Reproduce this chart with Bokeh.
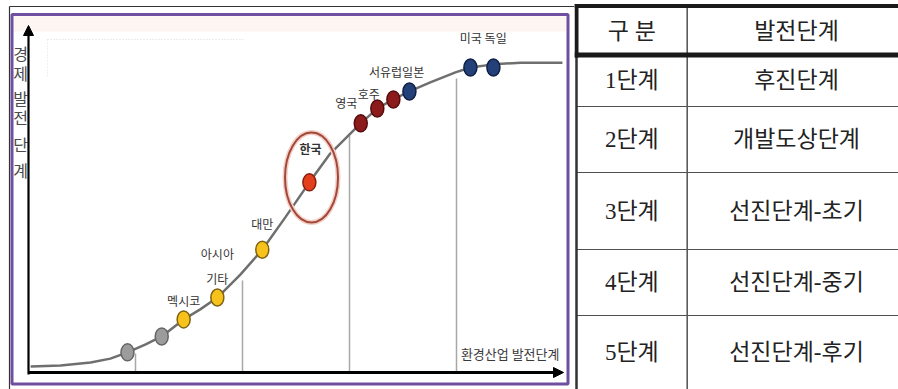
from bokeh.plotting import figure
from bokeh.models import Range1d, Arrow, NormalHead
from bokeh.layouts import row
from bokeh.embed import file_html
from bokeh.resources import INLINE
from bokeh.core.properties import value

# ---------------- data ----------------
# S-curve of economic development (x: environmental-industry stage 0-100, y: economic stage 0-100)
curve_x = [0.4, 6.0, 11.6, 15.3, 18.5, 21.9, 24.9, 29.0, 32.1, 35.3, 39.6, 43.7, 48.0,
           52.5, 56.4, 60.2, 62.1, 65.2, 68.2, 71.2, 75.1, 79.8, 82.6, 86.9, 92.0, 99.8]
curve_y = [1.7, 2.0, 2.9, 4.0, 5.8, 8.1, 10.4, 15.3, 18.2, 21.6, 28.2, 35.4, 44.7,
           54.8, 63.1, 68.9, 71.8, 76.1, 78.7, 81.0, 83.6, 86.5, 87.9, 88.8, 89.3, 89.3]

# country points
point_x = [18.5, 24.9, 29.0, 35.3, 43.7, 52.5, 62.1, 65.2, 68.2, 71.2, 82.6, 86.9]
point_y = [5.8, 10.4, 15.3, 21.6, 35.4, 54.8, 71.8, 76.1, 78.7, 81.0, 87.9, 87.9]
point_group = ["low", "low", "mid", "mid", "mid", "kr", "adv", "adv", "adv", "top", "top", "top"]

# labels
label_text = ["멕시코", "아시아", "기타", "대만", "한국", "영국", "호주", "서유럽일본", "미국 독일"]
label_x = [29.0, 35.3, 35.3, 43.7, 52.7, 59.4, 63.6, 68.8, 85.0]
label_y = [20.7, 34.4, 27.2, 42.9, 64.6, 77.8, 80.5, 86.6, 96.6]

# stage boundaries on the x axis and the height of each boundary line
stage_bounds = [20, 40, 60, 80]
stage_tops = [5.5, 26.5, 68.3, 84.7]

y_title_chars = ["경", "제", "발", "전", "단", "계"]
x_title = "환경산업 발전단계"

# table
table_header = ["구 분", "발전단계"]
table_col1 = ["1단계", "2단계", "3단계", "4단계", "5단계"]
table_col2 = ["후진단계", "개발도상단계", "선진단계-초기", "선진단계-중기", "선진단계-후기"]

# ---------------- styles ----------------
group_fill = {"low": "#9c9c9c", "mid": "#f8c21c", "kr": "#e2401c", "adv": "#8c1c1c", "top": "#234079"}
group_line = {"low": "#666666", "mid": "#7d6212", "kr": "#8a1d10", "adv": "#560c0c", "top": "#101f44"}

KFONT = value("Noto Sans CJK KR")

# ---------------- chart figure ----------------
W1, H = 574, 389
X0, X100 = 28, 563       # pixel position of x = 0 and x = 100
Y0, Y100 = 372, 25       # pixel position of y = 0 and y = 100
SX = (X100 - X0) / 100.0
SY = (Y0 - Y100) / 100.0


def fx(px):
    return (px - X0) / SX


def fy(py):
    return (Y0 - py) / SY


p = figure(width=W1, height=H, output_backend="svg", toolbar_location=None,
           x_range=Range1d(fx(0), fx(W1)), y_range=Range1d(fy(H), fy(0)),
           x_axis_location=None, y_axis_location=None, min_border=0,
           outline_line_color=None, background_fill_color="white")
p.grid.visible = False

# faint band at top of the frame
p.quad(left=[fx(13)], right=[fx(566)], top=[fy(16)], bottom=[fy(31)],
       fill_color="#fcf5f2", line_color=None)
# faint dotted guide
p.line([fx(47), fx(243)], [fy(39), fy(39)], line_color="#d8d8d8", line_dash="1 2", line_width=1)
p.line([fx(47), fx(47)], [fy(39), fy(78)], line_color="#e0e0e0", line_dash="1 2", line_width=1)

# outer frame lines
p.line([fx(9), fx(W1)], [fy(6), fy(6)], line_color="#333333", line_width=1.2)
p.line([fx(9), fx(9)], [fy(6), fy(H)], line_color="#333333", line_width=1.2)
# purple frame
p.quad(left=[fx(11.5)], right=[fx(567.5)], top=[fy(14)], bottom=[fy(383.5)],
       fill_color=None, line_color="#6f4f9f", line_width=3)

# stage boundary lines
p.segment(x0=stage_bounds, y0=[0] * len(stage_bounds), x1=stage_bounds, y1=stage_tops,
          line_color="#a8a8a8", line_width=1.5)

# axes with arrows
p.add_layout(Arrow(end=NormalHead(size=10, fill_color="black", line_color="black"),
                   x_start=0, y_start=fy(374), x_end=0, y_end=100,
                   line_color="black", line_width=2.2))
p.add_layout(Arrow(end=NormalHead(size=10, fill_color="black", line_color="black"),
                   x_start=0, y_start=0, x_end=100, y_end=0,
                   line_color="black", line_width=3))

# curve
p.line(curve_x, curve_y, line_color="#6f6f6f", line_width=2.5)

# Korea highlight ring
p.ellipse(x=[point_x[5] + 0.4], y=[point_y[5] + 1.4], width=53, height=90,
          width_units="screen", height_units="screen",
          fill_color=None, line_color="#f3cfc8", line_width=5)
p.ellipse(x=[point_x[5] + 0.4], y=[point_y[5] + 1.4], width=53, height=90,
          width_units="screen", height_units="screen",
          fill_color=None, line_color="#a24838", line_width=2)

# points
p.ellipse(x=point_x, y=point_y, width=13, height=17,
          width_units="screen", height_units="screen",
          fill_color=[group_fill[g] for g in point_group],
          line_color=[group_line[g] for g in point_group], line_width=1.5)

# point labels
bold = ["bold" if t == "한국" else "normal" for t in label_text]
p.text(x=label_x, y=label_y, text=label_text, text_font=KFONT, text_font_size="12px",
       text_font_style=bold, text_color="#333333",
       text_align="center", text_baseline="middle")

# axis titles
y_title_px = [52, 72, 97, 116, 143, 169]
p.text(x=[fx(20)] * len(y_title_chars), y=[fy(v) for v in y_title_px], text=y_title_chars,
       text_font=KFONT, text_font_size="16px", text_color="#4a4a4a",
       text_align="center", text_baseline="middle")
p.text(x=[fx(559)], y=[fy(353)], text=[x_title], text_font=KFONT, text_font_size="13px",
       text_color="#3a3a3a", text_align="right", text_baseline="middle")

# ---------------- table figure ----------------
W2 = 898 - W1
t = figure(width=W2, height=H, output_backend="svg", toolbar_location=None,
           x_range=Range1d(0, W2), y_range=Range1d(H, 0),
           x_axis_location=None, y_axis_location=None, min_border=0,
           outline_line_color=None, background_fill_color="white")
t.grid.visible = False

row_edges = [5.5, 54.5, 106, 172, 249, 315, 389]
col_div = 112.7
col1_c = (2 + col_div) / 2
col2_c = 222

# grid lines
t.segment(x0=[2] * 4, y0=row_edges[2:6], x1=[W2] * 4, y1=row_edges[2:6],
          line_color="#505050", line_width=1.2)
t.segment(x0=[col_div], y0=[row_edges[0]], x1=[col_div], y1=[H],
          line_color="#5a5a5a", line_width=1.6)
t.segment(x0=[2], y0=[row_edges[1]], x1=[2], y1=[H], line_color="#333333", line_width=2.5)
# header box (thick)
t.segment(x0=[0, 0, 2], y0=[row_edges[0], row_edges[1], 3.5],
          x1=[W2, W2, 2], y1=[row_edges[0], row_edges[1], 57],
          line_color="#1a1a1a", line_width=[4, 5, 4])

centers = [(row_edges[i] + row_edges[i + 1]) / 2 for i in range(len(row_edges) - 1)]
TFONT = value("Liberation Serif, Noto Sans CJK KR")
t.text(x=[col1_c, col2_c], y=[centers[0] + 1] * 2, text=table_header, text_font=TFONT,
       text_font_size="23px", text_color="#222222", text_align="center", text_baseline="middle")
t.text(x=[col1_c] * len(table_col1), y=centers[1:], text=table_col1, text_font=TFONT,
       text_font_size="23px", text_color="#222222", text_align="center", text_baseline="middle")
t.text(x=[col2_c] * len(table_col2), y=centers[1:], text=table_col2, text_font=TFONT,
       text_font_size="23px", text_color="#222222", text_align="center", text_baseline="middle")

layout = row(p, t, spacing=0)
open("out.html", "w").write(file_html(layout, INLINE))
